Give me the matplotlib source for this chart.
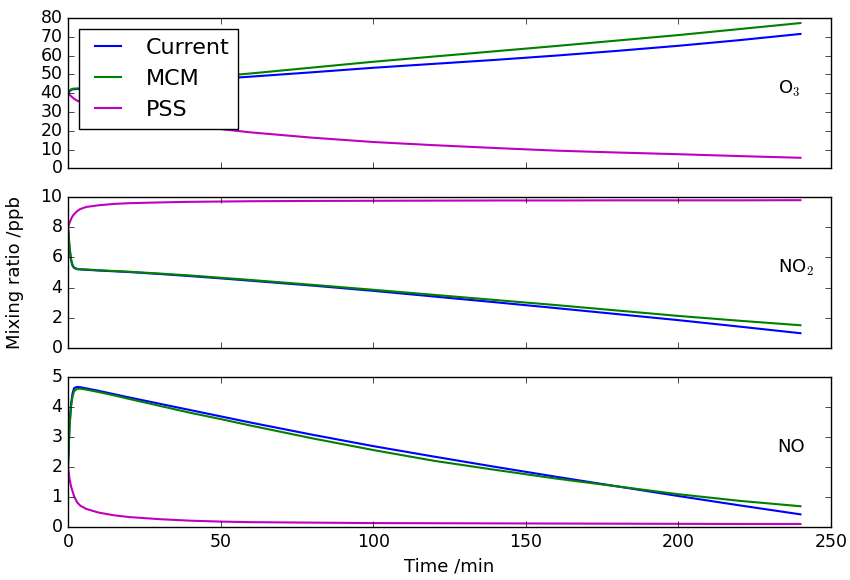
import matplotlib
matplotlib.use("Agg")
import matplotlib.pyplot as plt

plt.style.use('classic')

time = [0, 0.5, 1, 1.5, 2, 3, 4, 6, 10, 15, 20, 30, 40, 50, 60, 80, 100,
        120, 140, 160, 180, 200, 220, 240]

o3_current = [40, 41.0, 41.7, 42.0, 42.1, 42.2, 42.3, 42.5, 43.0, 43.6, 44.2, 45.4,
              46.6, 47.7, 48.8, 51.1, 53.5, 55.6, 57.7, 60.0, 62.5, 65.2, 68.2, 71.5]
o3_mcm = [40, 41.3, 42.0, 42.3, 42.4, 42.5, 42.6, 42.9, 43.5, 44.2, 44.9, 46.3,
          47.7, 49.1, 50.5, 53.6, 56.7, 59.5, 62.3, 65.1, 68.0, 70.9, 74.1, 77.3]
o3_pss = [40, 39.2, 38.4, 37.7, 37.0, 36.0, 35.4, 34.2, 32.3, 30.3, 28.6, 25.6,
          23.0, 20.9, 19.1, 16.3, 14.0, 12.3, 10.8, 9.4, 8.4, 7.5, 6.5, 5.6]

no2_current = [8.0, 6.6, 5.8, 5.45, 5.3, 5.22, 5.2, 5.18, 5.13, 5.08, 5.03, 4.90,
               4.76, 4.61, 4.45, 4.13, 3.78, 3.40, 3.02, 2.63, 2.23, 1.83, 1.40, 0.96]
no2_mcm = [8.0, 6.7, 5.9, 5.5, 5.33, 5.24, 5.22, 5.2, 5.15, 5.1, 5.05, 4.93,
           4.80, 4.65, 4.50, 4.18, 3.85, 3.51, 3.17, 2.83, 2.47, 2.11, 1.79, 1.49]
no2_pss = [8.0, 8.3, 8.55, 8.75, 8.88, 9.08, 9.22, 9.36, 9.47, 9.56, 9.61, 9.66,
           9.70, 9.72, 9.74, 9.76, 9.77, 9.78, 9.79, 9.79, 9.80, 9.80, 9.80, 9.81]

no_current = [2.0, 3.4, 4.1, 4.45, 4.62, 4.66, 4.65, 4.61, 4.53, 4.42, 4.31, 4.10,
              3.89, 3.68, 3.47, 3.07, 2.69, 2.34, 2.00, 1.67, 1.35, 1.03, 0.72, 0.42]
no_mcm = [2.0, 3.3, 4.0, 4.35, 4.52, 4.6, 4.6, 4.57, 4.49, 4.38, 4.26, 4.03,
          3.80, 3.59, 3.37, 2.95, 2.56, 2.20, 1.90, 1.61, 1.35, 1.09, 0.87, 0.69]
no_pss = [2.0, 1.6, 1.35, 1.18, 1.02, 0.82, 0.71, 0.6, 0.48, 0.39, 0.33, 0.26,
          0.21, 0.18, 0.16, 0.145, 0.13, 0.125, 0.12, 0.115, 0.11, 0.105, 0.10, 0.10]

series_names = ["Current", "MCM", "PSS"]
colors = ["b", "g", "m"]
species = ["O$_3$", "NO$_2$", "NO"]
data = [
    [o3_current, o3_mcm, o3_pss],
    [no2_current, no2_mcm, no2_pss],
    [no_current, no_mcm, no_pss],
]
ylims = [(0, 80), (0, 10), (0, 5)]
ysteps = [10, 2, 1]

fig, axes = plt.subplots(3, 1, sharex=True, figsize=(8.5, 5.8), dpi=100)
fig.patch.set_facecolor("white")
fig.subplots_adjust(left=0.08, right=0.9776, top=0.969, bottom=0.0914, hspace=0.193)

for ax, vals, sp, yl, st in zip(axes, data, species, ylims, ysteps):
    for v, c, n in zip(vals, colors, series_names):
        ax.plot(time, v, color=c, lw=1.5, label=n)
    ax.set_ylim(*yl)
    ax.set_yticks(list(range(yl[0], yl[1] + 1, st)))
    ax.set_xlim(0, 250)
    ax.tick_params(labelsize=12.5)
    ax.text(0.93, 0.53, sp, transform=ax.transAxes, fontsize=13,
            ha="left", va="center")

axes[0].legend(loc="upper left", fontsize=16, handlelength=1.8)
axes[2].set_xticks([0, 50, 100, 150, 200, 250])
axes[2].set_xlabel("Time /min", fontsize=13)
axes[1].set_ylabel("Mixing ratio /ppb", fontsize=13)
axes[1].yaxis.set_label_coords(-0.058, 0.5)

fig.savefig("out.png", dpi=100, facecolor="white")
